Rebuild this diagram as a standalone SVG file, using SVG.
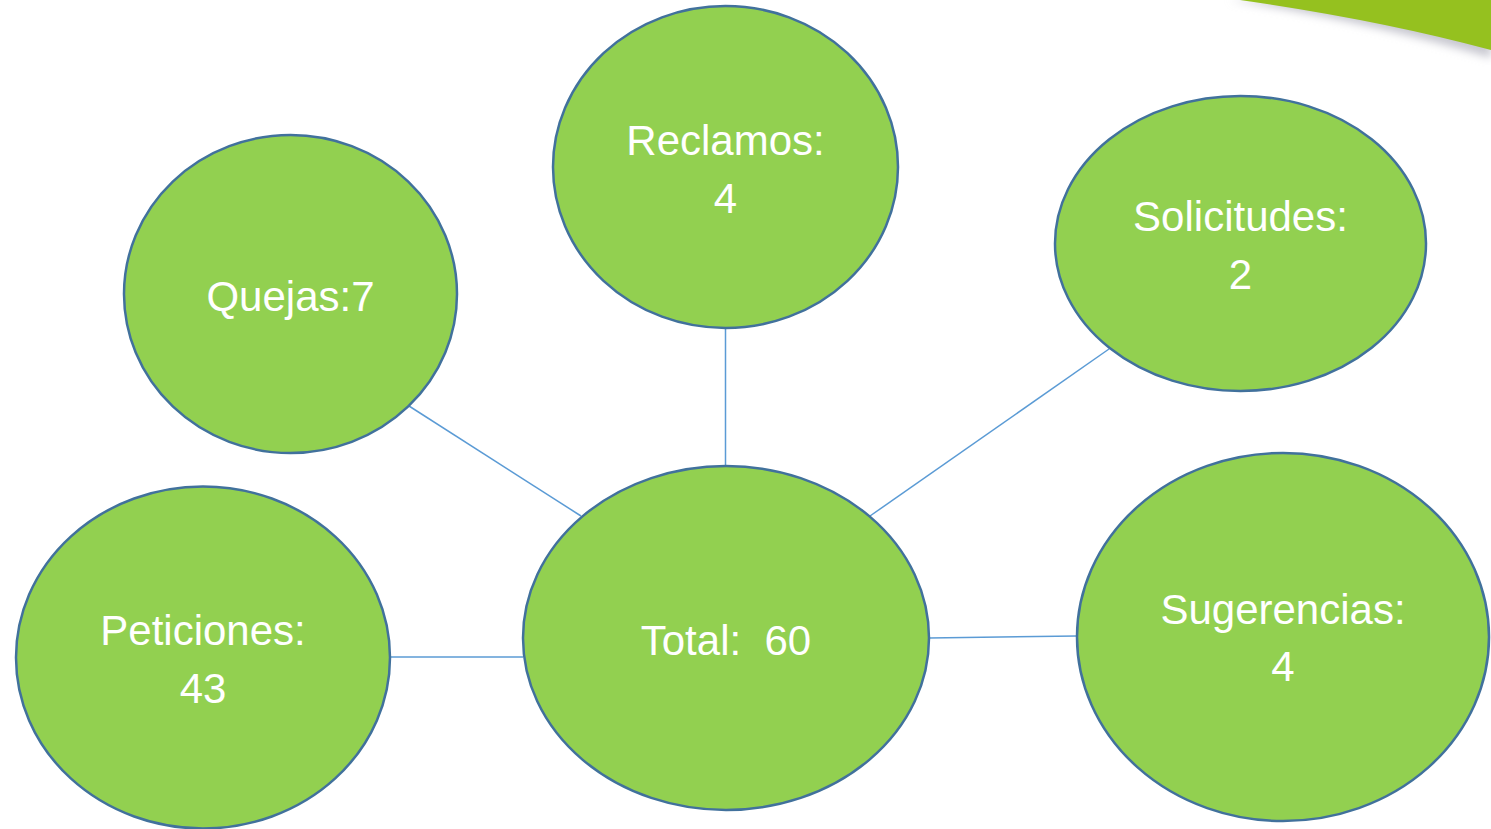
<svg xmlns="http://www.w3.org/2000/svg" width="1491" height="829" viewBox="0 0 1491 829">
<defs>
<style>
.node{fill:#92d050;stroke:#41719c;stroke-width:2.5}
.lbl{font-family:"Liberation Sans",Arial,sans-serif;font-size:42px;fill:#ffffff;text-anchor:middle}
.conn{stroke:#5b9bd5;stroke-width:1.5;fill:none}
</style>
<filter id="blur" x="-10%" y="-50%" width="120%" height="200%"><feGaussianBlur stdDeviation="4"/></filter>
</defs>
<rect width="1491" height="829" fill="#ffffff"/>
<g id="swoosh">
<path d="M1230,0 Q1370,22 1491,58 L1491,40 Q1380,12 1290,0 Z" fill="#c8c8d0" filter="url(#blur)"/>
<path d="M1240,0 Q1380,20 1491,50 L1491,0 Z" fill="#95c11f"/>
</g>
<g id="connectors">
<line class="conn" x1="409" y1="406" x2="581" y2="516"/>
<line class="conn" x1="725.5" y1="328" x2="725.5" y2="466"/>
<line class="conn" x1="1109" y1="349" x2="870" y2="516"/>
<line class="conn" x1="390" y1="657" x2="523" y2="657"/>
<line class="conn" x1="929" y1="638" x2="1077" y2="636"/>
</g>
<g id="reclamos">
<ellipse class="node" cx="725.5" cy="167" rx="172.5" ry="161"/>
<text class="lbl" x="725.5" y="155">Reclamos:</text>
<text class="lbl" x="725.5" y="213">4</text>
</g>
<g id="quejas">
<ellipse class="node" cx="290.5" cy="294" rx="166.5" ry="159"/>
<text class="lbl" x="290.5" y="311">Quejas:7</text>
</g>
<g id="solicitudes">
<ellipse class="node" cx="1240.5" cy="243.5" rx="185.5" ry="147.5"/>
<text class="lbl" x="1240.5" y="231">Solicitudes:</text>
<text class="lbl" x="1240.5" y="289">2</text>
</g>
<g id="peticiones">
<ellipse class="node" cx="203" cy="657.5" rx="187" ry="171"/>
<text class="lbl" x="203" y="645">Peticiones:</text>
<text class="lbl" x="203" y="703">43</text>
</g>
<g id="total">
<ellipse class="node" cx="726" cy="638" rx="203" ry="172"/>
<text class="lbl" x="726" y="655" xml:space="preserve">Total:  60</text>
</g>
<g id="sugerencias">
<ellipse class="node" cx="1283" cy="637" rx="206" ry="184"/>
<text class="lbl" x="1283" y="624">Sugerencias:</text>
<text class="lbl" x="1283" y="681">4</text>
</g>
</svg>
